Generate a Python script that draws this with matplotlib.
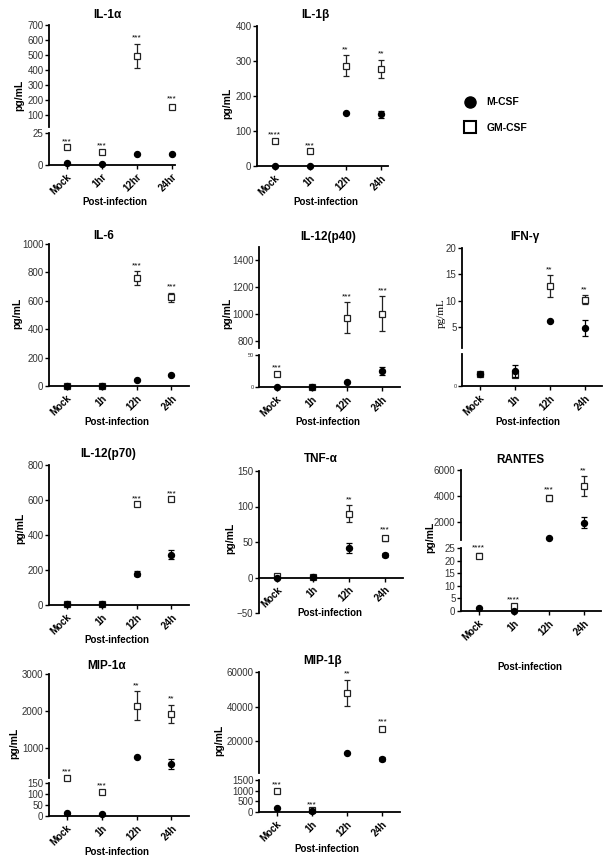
import matplotlib
matplotlib.use("Agg")
import matplotlib.pyplot as plt
from matplotlib.lines import Line2D

plt.rcParams['font.family'] = ['Liberation Sans', 'DejaVu Sans']

W, H = 613, 866

times = ['Mock', '1h', '12h', '24h']
times_hr = ['Mock', '1hr', '12hr', '24hr']

# IL-1a
il1a_m = [1.2, 0.5, 8.4, 8.4]
il1a_m_err = [0, 0, 0, 0]
il1a_gm = [14, 10.5, 495, 155]
il1a_gm_err = [0, 0, 80, 15]
il1a_stars = ['***', '***', '***', '***']

# IL-1b
il1b_m = [0, 0, 152, 148]
il1b_m_err = [0, 0, 0, 10]
il1b_gm = [72, 42, 287, 278]
il1b_gm_err = [0, 0, 29, 26]
il1b_stars = ['****', '***', '**', '**']

# IL-6
il6_m = [0, 0, 40, 80]
il6_m_err = [0, 0, 0, 0]
il6_gm = [0, 0, 760, 625]
il6_gm_err = [0, 0, 48, 32]
il6_stars = ['', '', '***', '***']

# IL-12(p40)
p40_m = [0, 0, 8, 25]
p40_m_err = [0, 0, 0, 6]
p40_gm = [21, 0, 975, 1005]
p40_gm_err = [0, 0, 115, 128]
p40_stars = ['***', '', '***', '***']

# IFN-g
ifn_m = [1.1, 1.4, 6.1, 4.8]
ifn_m_err = [0, 0.6, 0, 1.6]
ifn_gm = [1.1, 1.0, 12.7, 10.2]
ifn_gm_err = [0, 0, 2.1, 0.8]
ifn_stars = ['', '', '**', '**']

# IL-12(p70)
p70_m = [5, 5, 180, 288]
p70_m_err = [0, 0, 15, 27]
p70_gm = [5, 5, 575, 605]
p70_gm_err = [0, 0, 0, 0]
p70_stars = ['', '', '***', '***']

# TNF-a
tnf_m = [0, 1, 42, 32]
tnf_m_err = [0, 0, 7, 3]
tnf_gm = [2, 1, 90, 55]
tnf_gm_err = [0, 0, 12, 4]
tnf_stars = ['', '', '**', '***']

# RANTES
rantes_m = [1.2, 0, 750, 1950]
rantes_m_err = [0, 0, 0, 400]
rantes_gm = [22, 2, 3850, 4750]
rantes_gm_err = [1, 0, 220, 750]
rantes_stars = ['****', '****', '***', '**']

# MIP-1a
mip1a_m = [15, 8, 760, 580]
mip1a_m_err = [0, 0, 0, 130]
mip1a_gm = [210, 110, 2150, 1920]
mip1a_gm_err = [0, 0, 390, 250]
mip1a_stars = ['***', '***', '**', '**']

# MIP-1b
mip1b_m = [190, 30, 13000, 9800]
mip1b_m_err = [0, 0, 0, 1200]
mip1b_gm = [1000, 80, 48000, 27000]
mip1b_gm_err = [0, 0, 7500, 1000]
mip1b_stars = ['***', '***', '**', '***']

fig = plt.figure(figsize=(W / 100, H / 100), dpi=100)

m_style = dict(fmt='o', ms=4.3, mfc='black', mec='black', ecolor='black',
               elinewidth=0.9, capsize=2, capthick=0.9, clip_on=False, zorder=4)
gm_style = dict(fmt='s', ms=5, mfc='white', mec='#222222', mew=0.9,
                ecolor='#222222', elinewidth=0.9, capsize=2, capthick=0.9,
                clip_on=False, zorder=3)


def px_axes(left, top, width, bottom):
    return fig.add_axes([left / W, 1 - bottom / H, width / W, (bottom - top) / H])


def pick(axes, segs, v):
    # lowest segment whose range reaches the value
    for ax, seg in zip(axes[::-1], segs[::-1]):
        if v <= seg[2][1]:
            return ax
    return axes[0]


def panel(left, width, xmax, segs, labels, m, m_err, gm, gm_err, stars,
          zero_axis=False):
    axes = []
    for i, (top, bot, ylim, yticks, fs) in enumerate(segs):
        ax = px_axes(left, top, width, bot)
        for s in ('top', 'right'):
            ax.spines[s].set_visible(False)
        if zero_axis:
            ax.spines['bottom'].set_position(('data', 0))
        ax.set_xlim(-0.5, xmax)
        ax.set_ylim(*ylim)
        ax.set_yticks(yticks)
        ax.spines['left'].set_linewidth(1.3)
        ax.tick_params(axis='y', labelsize=fs, length=3, width=1,
                       labelcolor='#333333', pad=1)
        ax.patch.set_visible(False)
        if i == len(segs) - 1:
            ax.spines['bottom'].set_linewidth(1.3)
            ax.set_xticks(range(len(labels)))
            ax.set_xticklabels(labels, rotation=45, ha='right',
                               rotation_mode='anchor', fontweight='bold',
                               fontsize=7)
            ax.tick_params(axis='x', length=3, width=1, pad=2)
        else:
            ax.spines['bottom'].set_visible(False)
            ax.set_xticks([])
        axes.append(ax)

    for j in range(len(labels)):
        ax = pick(axes, segs, gm[j])
        ax.errorbar(j, gm[j], yerr=gm_err[j] if gm_err[j] else None, **gm_style)
        if stars[j]:
            ax.annotate(stars[j], (j, gm[j] + gm_err[j]), xytext=(0, 1.5),
                        textcoords='offset points', ha='center', va='bottom',
                        fontsize=6, annotation_clip=False)
        ax = pick(axes, segs, m[j])
        ax.errorbar(j, m[j], yerr=m_err[j] if m_err[j] else None, **m_style)
    return axes


def label(x, y, s, **kw):
    fig.text(x / W, 1 - y / H, s, ha='center', va='center', **kw)


def ylab(x, y, family=None):
    kw = dict(rotation=90, fontsize=7.5, fontweight='bold')
    if family:
        kw = dict(rotation=90, fontsize=8, family=family)
    label(x, y, 'pg/mL', **kw)


def title(x, y, s):
    label(x, y, s, fontsize=8.5, fontweight='bold')


def xlab(x, y):
    label(x, y, 'Post-infection', fontsize=7, fontweight='bold')


# Row 1
panel(49, 126, 3.1,
      [(25, 127, (20, 700), [100, 200, 300, 400, 500, 600, 700], 7),
       (133, 165, (0, 25), [0, 25], 7)],
      times_hr, il1a_m, il1a_m_err, il1a_gm, il1a_gm_err, il1a_stars)
title(107, 15, 'IL-1α'); ylab(19, 95); xlab(115, 202)

panel(257, 131, 3.2,
      [(26, 166, (0, 400), [0, 100, 200, 300, 400], 7)],
      times, il1b_m, il1b_m_err, il1b_gm, il1b_gm_err, il1b_stars)
title(315, 15, 'IL-1β'); ylab(227, 103); xlab(326, 202)

# Row 2
panel(49, 140, 3.5,
      [(244, 386, (0, 1000), [0, 200, 400, 600, 800, 1000], 7)],
      times, il6_m, il6_m_err, il6_gm, il6_gm_err, il6_stars)
title(104, 236, 'IL-6'); ylab(17, 313); xlab(117, 422)

panel(259, 141, 3.5,
      [(247, 348, (750, 1500), [800, 1000, 1200, 1400], 7),
       (355, 387, (0, 50), [0, 50], 4)],
      times, p40_m, p40_m_err, p40_gm, p40_gm_err, p40_stars)
title(328, 237, 'IL-12(p40)'); ylab(227, 313); xlab(328, 422)

panel(462, 140, 3.5,
      [(248, 348, (1, 20), [5, 10, 15, 20], 7),
       (354, 386, (0, 3), [0], 4)],
      times, ifn_m, ifn_m_err, ifn_gm, ifn_gm_err, ifn_stars)
title(525, 237, 'IFN-γ'); ylab(441, 313, family='Liberation Serif'); xlab(528, 422)

# Row 3
panel(49, 140, 3.5,
      [(465, 605, (0, 800), [0, 200, 400, 600, 800], 7)],
      times, p70_m, p70_m_err, p70_gm, p70_gm_err, p70_stars)
title(108, 454, 'IL-12(p70)'); ylab(20, 528); xlab(117, 640)

panel(259, 144, 3.5,
      [(471, 613, (-50, 150), [-50, 0, 50, 100, 150], 7)],
      times, tnf_m, tnf_m_err, tnf_gm, tnf_gm_err, tnf_stars, zero_axis=True)
title(321, 459, 'TNF-α'); ylab(230, 538); xlab(330, 613)

panel(461, 140, 3.5,
      [(470, 540, (600, 6000), [2000, 4000, 6000], 7),
       (548, 611, (0, 25), [0, 5, 10, 15, 20, 25], 7)],
      times, rantes_m, rantes_m_err, rantes_gm, rantes_gm_err, rantes_stars)
title(520, 460, 'RANTES'); ylab(430, 537); xlab(530, 667)

# Row 4
panel(49, 140, 3.5,
      [(674, 778, (200, 3000), [1000, 2000, 3000], 7),
       (783, 816, (0, 150), [0, 50, 100, 150], 7)],
      times, mip1a_m, mip1a_m_err, mip1a_gm, mip1a_gm_err, mip1a_stars)
title(107, 666, 'MIP-1α'); ylab(14, 743); xlab(117, 852)

panel(259, 141, 3.5,
      [(672, 773, (1500, 60000), [20000, 40000, 60000], 7),
       (780, 812, (0, 1500), [0, 500, 1000, 1500], 7)],
      times, mip1b_m, mip1b_m_err, mip1b_gm, mip1b_gm_err, mip1b_stars)
title(323, 661, 'MIP-1β'); ylab(219, 740); xlab(327, 849)

# Legend
handles = [Line2D([], [], ls='none', marker='o', ms=8, mfc='black', mec='black'),
           Line2D([], [], ls='none', marker='s', ms=9, mfc='white', mec='black', mew=1.5)]
fig.legend(handles, ['M-CSF', 'GM-CSF'], loc='center left',
           bbox_to_anchor=(454 / W, 1 - 115 / H), frameon=False,
           handlelength=1.2, handletextpad=1.0, labelspacing=1.5,
           prop={'weight': 'bold', 'size': 7.5})

fig.savefig('out.png', dpi=100)
